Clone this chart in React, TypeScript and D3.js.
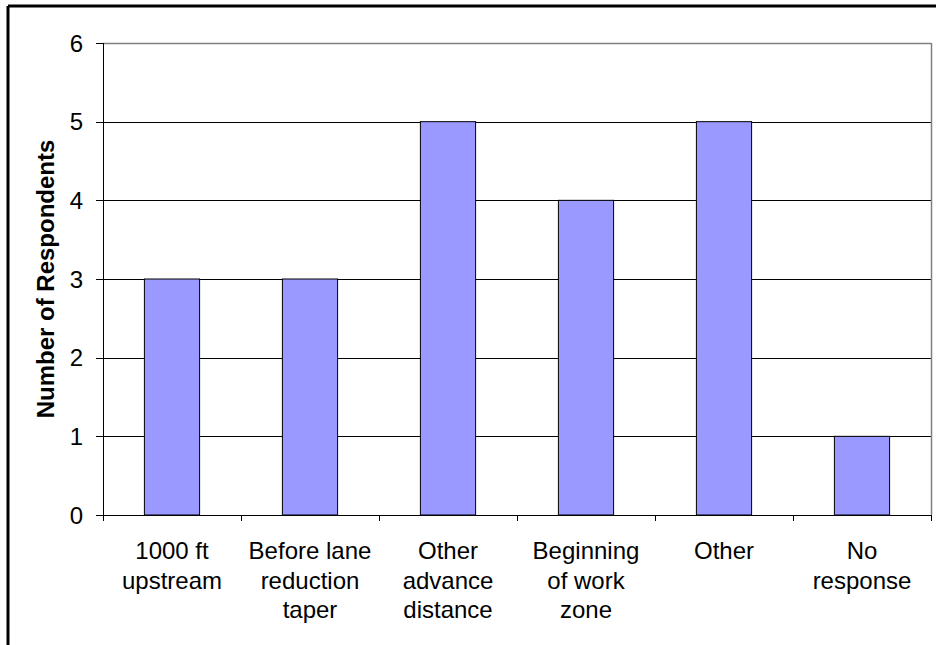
import React from "react";
import * as d3 from "d3";

const categories: string[][] = [
  ["1000 ft", "upstream"],
  ["Before lane", "reduction", "taper"],
  ["Other", "advance", "distance"],
  ["Beginning", "of work", "zone"],
  ["Other"],
  ["No", "response"],
];
const values: number[] = [3, 3, 5, 4, 5, 1];
const yTicks: number[] = [0, 1, 2, 3, 4, 5, 6];
const yTitle = "Number of Respondents";

export default function App() {
  const W = 937, H = 645;
  const left = 103, right = 931, top = 43, bottom = 515;
  const idx = categories.map((_, i) => String(i));
  const x = d3.scaleBand<string>().domain(idx).range([left, right]).paddingInner(0.6).paddingOuter(0.3);
  const xb = d3.scaleBand<string>().domain(idx).range([left, right]);
  const y = d3.scaleLinear().domain([0, 6]).range([bottom, top]);
  const font = "Arial, 'Liberation Sans', sans-serif";
  return (
    <svg width={W} height={H} style={{ position: "absolute", left: 0, top: 0 }} fontFamily={font}>
      <rect x={0} y={0} width={W} height={H} fill="#fff" />
      <line x1={8} y1={6} x2={936} y2={6} stroke="#000" strokeWidth={3} />
      <line x1={8} y1={6} x2={8} y2={H} stroke="#000" strokeWidth={3} />
      {yTicks.filter(t => t > 0).map(t => (
        <line key={t} x1={left} x2={right} y1={Math.round(y(t)) + 0.5} y2={Math.round(y(t)) + 0.5} stroke="#000" strokeWidth={1} />
      ))}
      <line x1={right + 0.5} x2={right + 0.5} y1={top} y2={bottom} stroke="#808080" strokeWidth={1.5} />
      <line x1={left} x2={right} y1={top + 0.5} y2={top + 0.5} stroke="#808080" strokeWidth={1.5} />
      {values.map((v, i) => (
        <rect key={i} x={x(String(i))!} y={y(v)} width={x.bandwidth()} height={y(0) - y(v)} fill="#9999FF" stroke="#000" strokeWidth={1} />
      ))}
      <line x1={left + 0.5} x2={left + 0.5} y1={top} y2={bottom + 6} stroke="#000" strokeWidth={1} />
      <line x1={left - 7} x2={right} y1={bottom + 0.5} y2={bottom + 0.5} stroke="#000" strokeWidth={1} />
      {yTicks.map(t => (
        <g key={t}>
          <line x1={left - 7} x2={left} y1={Math.round(y(t)) + 0.5} y2={Math.round(y(t)) + 0.5} stroke="#000" />
          <text x={83} y={y(t)} dy="0.36em" textAnchor="end" fontSize={24}>{t}</text>
        </g>
      ))}
      {idx.map((d, i) => (
        <line key={"t" + i} x1={xb(d)! + xb.bandwidth() + 0.5} x2={xb(d)! + xb.bandwidth() + 0.5} y1={bottom} y2={bottom + 6} stroke="#000" />
      ))}
      {categories.map((lines, i) => (
        <text key={"c" + i} x={xb(String(i))! + xb.bandwidth() / 2} y={559} textAnchor="middle" fontSize={24}>
          {lines.map((l, j) => (
            <tspan key={j} x={xb(String(i))! + xb.bandwidth() / 2} dy={j === 0 ? 0 : 29.5}>{l}</tspan>
          ))}
        </text>
      ))}
      <text transform={`translate(54, ${(top + bottom) / 2}) rotate(-90)`} textAnchor="middle" fontSize={24} fontWeight="bold">{yTitle}</text>
    </svg>
  );
}
